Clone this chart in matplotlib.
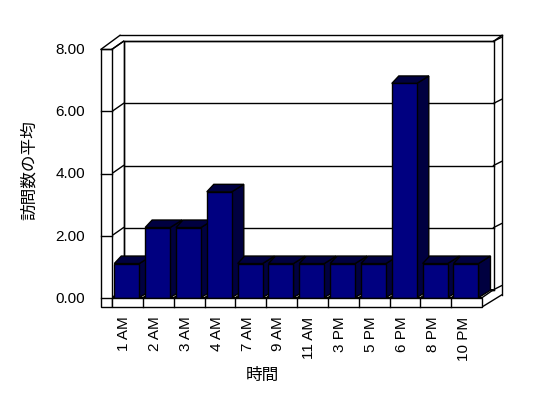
import matplotlib
matplotlib.use("Agg")
import matplotlib.pyplot as plt
from matplotlib.patches import Polygon, Rectangle

# data
hours = ["1 AM", "2 AM", "3 AM", "4 AM", "7 AM", "9 AM", "11 AM",
         "3 PM", "5 PM", "6 PM", "8 PM", "10 PM"]
avg_visits = [1.1, 2.26, 2.26, 3.41, 1.1, 1.1, 1.1, 1.1, 1.1, 6.9, 1.1, 1.1]
y_ticks = [0, 2, 4, 6, 8]
x_title = "時間"
y_title = "訪問数の平均"

W, H = 548, 398
fig = plt.figure(figsize=(W / 100, H / 100), dpi=100)
fig.patch.set_facecolor("white")

# front plane of the pseudo-3D box, in pixels
left, right, base, top = 112, 482, 297.7, 49.3
ax = fig.add_axes([left / W, (H - base) / H, (right - left) / W, (base - top) / H])
n = len(hours)
ax.set_xlim(-0.5, n - 0.5)
ax.set_ylim(0, 8)
ax.axis("off")

PX = (right - left) / n      # pixels per category
PY = (base - top) / 8        # pixels per unit


def ux(p):
    return p / PX


def uy(p):
    return p / PY


DX, DY = ux(11.5), uy(8)     # depth of the box
x0, x1 = -0.5, n - 0.5
slab = ux(11)                # wall thickness
floor_t = uy(9.3)            # floor thickness
lw = 1.0
kw = dict(clip_on=False, color="black", lw=lw)

# back wall
ax.add_patch(Polygon([(x0 + DX, DY), (x1 + DX, DY), (x1 + DX, 8 + DY), (x0 + DX, 8 + DY)],
                     closed=True, fc="white", ec="black", lw=lw, clip_on=False, zorder=1))
for v in y_ticks:
    ax.plot([x0 + DX, x1 + DX], [v + DY, v + DY], zorder=2, **kw)
    # tick across the left wall, and the right wall edge
    ax.plot([x0, x0 + DX], [v, v + DY], zorder=2, **kw)
    ax.plot([x1 + DX, x1 + DX + ux(8)], [v + DY, v + DY + uy(4)], zorder=2, **kw)

# back wall thickness / outline
ax.plot([x0 - slab, x0 - slab + ux(19)], [8, 8 + uy(14)], zorder=2, **kw)
ax.plot([x0 - slab + ux(19), x1 + ux(20)], [8 + uy(14), 8 + uy(14)], zorder=2, **kw)
ax.plot([x1 + DX, x1 + ux(20)], [8 + DY, 8 + uy(14)], zorder=2, **kw)
ax.plot([x1 + ux(20), x1 + ux(20)], [8 + uy(14), uy(3)], zorder=2, **kw)
ax.plot([x1 + ux(20), x1], [uy(3), -floor_t], zorder=2, **kw)
ax.plot([x0 + DX, x0 + DX], [DY, 8 + DY], zorder=2, **kw)

# floor top
ax.add_patch(Polygon([(x0, 0), (x1, 0), (x1 + DX, DY), (x0 + DX, DY)],
                     closed=True, fc="white", ec="black", lw=lw, clip_on=False, zorder=2))
for i in range(n - 1):
    b = i + 0.5
    ax.plot([b, b + DX], [0, DY], zorder=2, **kw)

# bars
front_c = "#000080"
shade_c = "#000040"
for i, v in enumerate(avg_visits):
    bx0 = i - 0.5 + ux(2.3)
    bx1 = bx0 + ux(25)
    z = 3 + i
    ax.add_patch(Polygon([(bx1, 0), (bx1 + ux(12), uy(7.5)), (bx1 + ux(12), v + uy(7.5)), (bx1, v)],
                         closed=True, fc=shade_c, ec="black", lw=lw, clip_on=False, zorder=z))
    ax.add_patch(Polygon([(bx0, v), (bx1, v), (bx1 + ux(12), v + uy(7.5)), (bx0 + ux(7), v + uy(7.5))],
                         closed=True, fc=shade_c, ec="black", lw=lw, clip_on=False, zorder=z))
    ax.add_patch(Rectangle((bx0, 0), bx1 - bx0, v, fc=front_c, ec="black", lw=lw,
                           clip_on=False, zorder=z + 0.5))

# front slabs: left wall and floor
ax.add_patch(Rectangle((x0 - slab, -floor_t), slab, 8 + floor_t, fc="white", ec="black",
                       lw=lw, clip_on=False, zorder=20))
ax.add_patch(Rectangle((x0, -floor_t), x1 - x0, floor_t, fc="white", ec="black",
                       lw=lw, clip_on=False, zorder=20))
ax.plot([x0, x0 + DX], [8, 8 + DY], zorder=21, **kw)
for v in y_ticks:
    ax.plot([x0 - slab, x0], [v, v], zorder=21, **kw)
for i in range(n - 1):
    ax.plot([i + 0.5, i + 0.5], [-floor_t, 0], zorder=21, **kw)

# tick labels
num_font = dict(family=["Liberation Sans", "DejaVu Sans"], fontsize=11)
for v in y_ticks:
    ax.text(x0 - ux(27), v - uy(1), f"{v:.2f}", ha="right", va="center", **num_font)
for i, h in enumerate(hours):
    ax.text(i - 0.1, -uy(19), h, rotation=90, ha="center", va="top", **num_font)

jp_font = dict(family=["Noto Sans CJK JP", "DejaVu Sans"], fontsize=12)
ax.text(x0 + ux(262 - left), -uy(375.5 - base), x_title, ha="center", va="center", **jp_font)
ax.text(x0 - ux(left - 29), (base - 170) / PY, y_title, rotation=90,
        ha="center", va="center", **jp_font)

fig.savefig("out.png", dpi=100)
